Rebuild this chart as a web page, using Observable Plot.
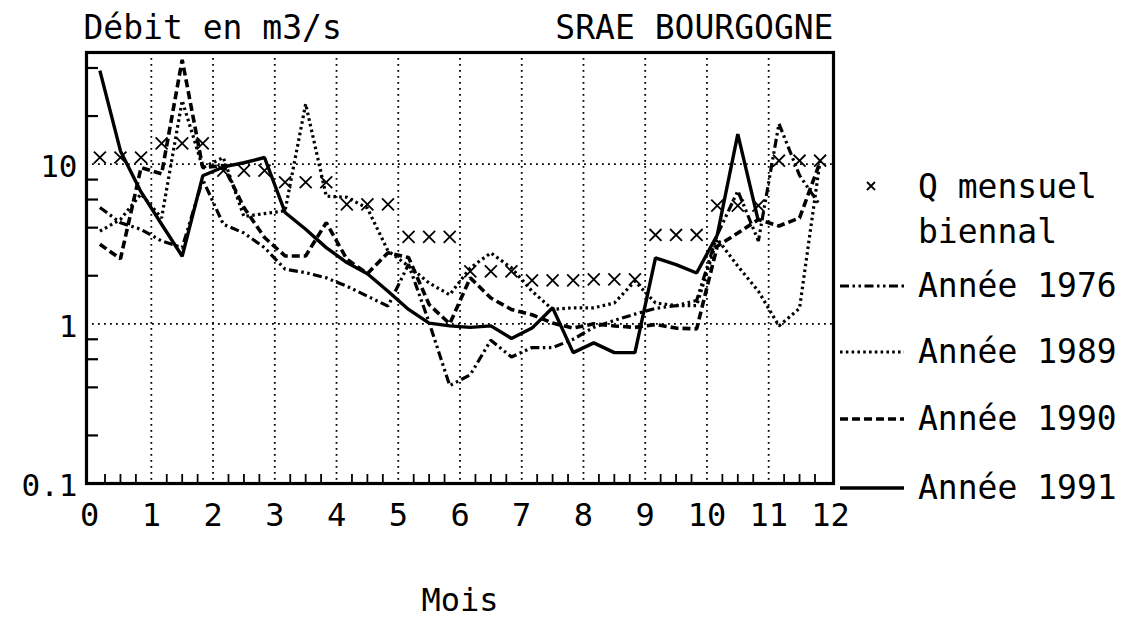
<!DOCTYPE html>
<html>
<head>
<meta charset="utf-8">
<script src="https://cdn.jsdelivr.net/npm/d3@7"></script>
<script src="https://cdn.jsdelivr.net/npm/@observablehq/plot@0.6"></script>
<style>
  html, body { margin: 0; padding: 0; background: #fff; }
  #wrap { position: relative; width: 1135px; height: 618px; overflow: hidden; font-family: "DejaVu Sans Mono", monospace; color: #000; }
  #legend { position: absolute; left: 0; top: 0; }
  .row { position: absolute; left: 838px; display: flex; align-items: center; height: 40px; }
  .row span { font-size: 33px; line-height: 40px; margin-left: 14px; white-space: pre; }
</style>
</head>
<body>
<div id="wrap"><div id="chart"></div><div id="legend"></div></div>
<script>
// ---- data (decade = 10-day period, three per month) ----
const months = [0, 1, 2, 3, 4, 5, 6, 7, 8, 9, 10, 11];
const decadeOffsets = [1 / 6, 1 / 2, 5 / 6];

const qBiennal = [11, 11, 11, 13.5, 13.5, 13.5, 9.1, 9.1, 9.1, 7.7, 7.7, 7.7,
  5.6, 5.6, 5.6, 3.5, 3.5, 3.5, 2.13, 2.13, 2.13, 1.87, 1.87, 1.87,
  1.9, 1.9, 1.9, 3.6, 3.6, 3.6, 5.5, 5.5, 5.5, 10.5, 10.5, 10.5];

const y1976 = [5.35, 4.3, 3.9, 3.3, 3.0, 8.0, 4.2, 3.7, 3.0, 2.2, 2.09, 1.94,
  1.72, 1.49, 1.29, 2.36, 1.02, 0.41, 0.48, 0.79, 0.62, 0.71, 0.71, 0.8,
  0.95, 1.05, 1.15, 1.25, 1.3, 1.4, 3.6, 6.8, 3.3, 17.9, 8.5, 5.5];

const y1989 = [3.8, 4.5, 6.5, 4.6, 25, 9.5, 11, 4.7, 4.9, 5.1, 23.8, 6.3,
  6.2, 5.3, 2.86, 2.3, 1.8, 1.52, 2.24, 2.78, 2.24, 1.6, 1.23, 1.26,
  1.26, 1.35, 1.85, 1.35, 1.3, 1.3, 3.4, 2.3, 1.6, 0.97, 1.25, 10.5];

const y1990 = [3.15, 2.55, 9.5, 8.7, 45, 9.5, 9.8, 5.35, 3.47, 2.66, 2.66, 4.3,
  2.54, 2.06, 2.79, 2.6, 1.32, 1.0, 1.94, 1.45, 1.23, 1.14, 1.01, 0.94,
  1.0, 0.97, 0.95, 0.99, 0.94, 0.93, 3.06, 3.7, 4.5, 4.1, 4.6, 10.3];

const y1991 = [38.5, 12.1, 6.7, 4.2, 2.65, 8.45, 9.6, 10.2, 11.0, 4.98, 3.91, 3.0,
  2.42, 2.06, 1.6, 1.23, 1.01, 0.97, 0.95, 0.97, 0.81, 0.94, 1.26, 0.66,
  0.76, 0.66, 0.66, 2.59, 2.35, 2.08, 3.6, 15.4, 4.4];

const yTickLabels = [0.1, 1, 10];
const yMinorTicks = [0.2, 0.4, 0.6, 0.8, 2, 4, 6, 8, 20, 40];
const xTickLabels = [0, 1, 2, 3, 4, 5, 6, 7, 8, 9, 10, 11, 12];
const xGrid = [1, 2, 3, 4, 5, 6, 7, 8, 9, 10, 11];
const quarterOffsets = [0.25, 0.5, 0.75];

const titleLeft = "Débit en m3/s";
const titleRight = "SRAE BOURGOGNE";
const xLabel = "Mois";
const legendLabels = ["Q mensuel\nbiennal", "Année 1976", "Année 1989", "Année 1990", "Année 1991"];

// ---- build tables ----
const decadePos = months.flatMap(m => decadeOffsets.map(o => m + o));
const xMinorTicks = months.flatMap(m => quarterOffsets.map(o => m + o));
const seriesList = [
  {name: "1976", values: y1976, dash: "9,3.5,2.5,3.5,2.5,3.5", width: 3.2},
  {name: "1989", values: y1989, dash: "2.6,3.2", width: 3.2},
  {name: "1990", values: y1990, dash: "8,4", width: 3.6},
  {name: "1991", values: y1991, dash: null, width: 3.4}
];
const rows = seriesList.flatMap(s => s.values.map((v, i) => ({x: decadePos[i], v, s: s.name})));
const qRows = qBiennal.map((v, i) => ({x: decadePos[i], v}));

const font = "DejaVu Sans Mono, monospace";

const chart = Plot.plot({
  width: 1135,
  height: 618,
  marginLeft: 86,
  marginRight: 302,
  marginTop: 52,
  marginBottom: 135,
  style: {fontFamily: font, fontSize: "31px", color: "black", background: "white", overflow: "visible"},
  x: {domain: [-0.05, 12.05]},
  y: {type: "log", domain: [0.1, 50]},
  marks: [
    Plot.gridX(xGrid, {stroke: "black", strokeOpacity: 1, strokeWidth: 1.8, strokeDasharray: "1.8,4.2"}),
    Plot.gridY([1, 10], {stroke: "black", strokeOpacity: 1, strokeWidth: 1.8, strokeDasharray: "1.8,4.2"}),
    Plot.tickY(yMinorTicks, {y: d => d, insetRight: 735, strokeWidth: 2.2}),
    Plot.tickX(xMinorTicks, {x: d => d, insetTop: 422, strokeWidth: 1.8}),
    Plot.axisY(yTickLabels, {tickSize: 0, tickPadding: 9, tickFormat: d => String(d), label: null, fontSize: 31, dy: 3}),
    Plot.axisX(xTickLabels, {tickSize: 0, tickPadding: 20, tickFormat: d => String(d), label: null, fontSize: 32}),
    ...seriesList.map(s => Plot.line(rows.filter(r => r.s === s.name), {
      x: "x", y: "v", stroke: "black", strokeWidth: s.width,
      strokeDasharray: s.dash, strokeLinejoin: "miter", strokeLinecap: "butt", curve: "linear"
    })),
    Plot.dot(qRows, {x: "x", y: "v", symbol: "times", r: 5.5, stroke: "black", strokeWidth: 1.8}),
    Plot.frame({stroke: "black", strokeWidth: 3.2}),
    Plot.text([titleLeft], {frameAnchor: "top-left", textAnchor: "start", lineAnchor: "middle", dx: -3, dy: -24, fontSize: 33}),
    Plot.text([titleRight], {frameAnchor: "top-right", textAnchor: "end", lineAnchor: "middle", dx: 0, dy: -24, fontSize: 33}),
    Plot.text([xLabel], {frameAnchor: "bottom", lineAnchor: "middle", dy: 117, fontSize: 32})
  ]
});
document.getElementById("chart").appendChild(chart);

// ---- legend ----
const legend = document.getElementById("legend");
const legendTops = [167, 212, 266, 332, 399, 468];
{
  const r1 = document.createElement("div");
  r1.className = "row";
  r1.style.top = legendTops[0] + "px";
  r1.innerHTML = `<svg width="66" height="40"><path d="M29,15 L37,23 M37,15 L29,23" stroke="black" stroke-width="1.8"/></svg><span>${legendLabels[0].split("\n")[0]}</span>`;
  legend.appendChild(r1);
  const r2 = document.createElement("div");
  r2.className = "row";
  r2.style.top = legendTops[1] + "px";
  r2.innerHTML = `<svg width="66" height="40"></svg><span>${legendLabels[0].split("\n")[1]}</span>`;
  legend.appendChild(r2);
}
seriesList.forEach((s, i) => {
  const r = document.createElement("div");
  r.className = "row";
  r.style.top = legendTops[i + 2] + "px";
  const dash = s.dash ? `stroke-dasharray="${s.dash}"` : "";
  r.innerHTML = `<svg width="66" height="40"><line x1="2" y1="20" x2="66" y2="20" stroke="black" stroke-width="${s.width}" ${dash}/></svg><span>${legendLabels[i + 1]}</span>`;
  legend.appendChild(r);
});
</script>
</body>
</html>
